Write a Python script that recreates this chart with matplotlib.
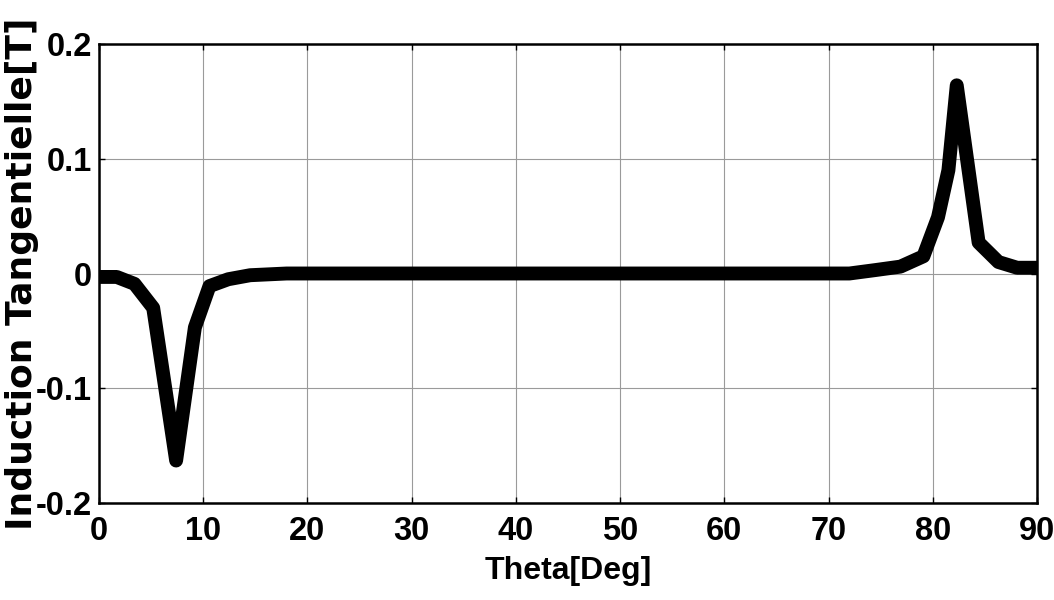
import matplotlib
matplotlib.use("Agg")
import matplotlib.pyplot as plt

theta = [0, 1.7, 3.4, 5.2, 7.4, 9.2, 10.6, 12.4, 14.5, 18, 30, 40, 50, 60, 70, 72,
         74.5, 76.9, 79.1, 80.5, 81.5, 82.3, 84.4, 86.3, 88.1, 90]
b_tan = [-0.003, -0.003, -0.009, -0.030, -0.163, -0.047, -0.011, -0.005, -0.0015, 0.0,
         0.0, 0.0, 0.0, 0.0, 0.0, 0.0,
         0.003, 0.006, 0.015, 0.049, 0.09, 0.164, 0.027, 0.010, 0.005, 0.005]

xticks = [0, 10, 20, 30, 40, 50, 60, 70, 80, 90]
yticks = [-0.2, -0.1, 0, 0.1, 0.2]
yticklabels = ["-0.2", "-0.1", "0", "0.1", "0.2"]

tick_family = ["Liberation Sans", "DejaVu Sans"]

fig = plt.figure(figsize=(10.54, 6.0), dpi=100)
ax = fig.add_axes([99/1054, 1-503/600, (1037-99)/1054, (503-44)/600])

ax.plot(theta, b_tan, color="black", lw=10, solid_joinstyle="round", solid_capstyle="round", zorder=3)

ax.set_xlim(0, 90)
ax.set_ylim(-0.2, 0.2)
ax.set_xticks(xticks)
ax.set_yticks(yticks)
ax.set_yticklabels(yticklabels)
ax.grid(True, color="#9a9a9a", lw=0.8)
for s in ax.spines.values():
    s.set_linewidth(1.8)
    s.set_color("black")
ax.tick_params(direction="in", length=4, width=1, top=True, right=True)

for lab in ax.get_xticklabels() + ax.get_yticklabels():
    lab.set_family(tick_family); lab.set_fontweight("bold"); lab.set_fontsize(23.5)
ax.tick_params(axis="x", pad=9)
ax.tick_params(axis="y", pad=5)

ax.set_xlabel("Theta[Deg]", family=tick_family, fontweight="bold", fontsize=23)
ax.xaxis.set_label_coords(0.5, -0.115)
ax.set_ylabel("Induction Tangentielle[T]", family=["DejaVu Sans"], fontweight="bold", fontsize=26)
ax.yaxis.set_label_coords(-0.064, 0.5)

fig.savefig("out.png", dpi=100)
